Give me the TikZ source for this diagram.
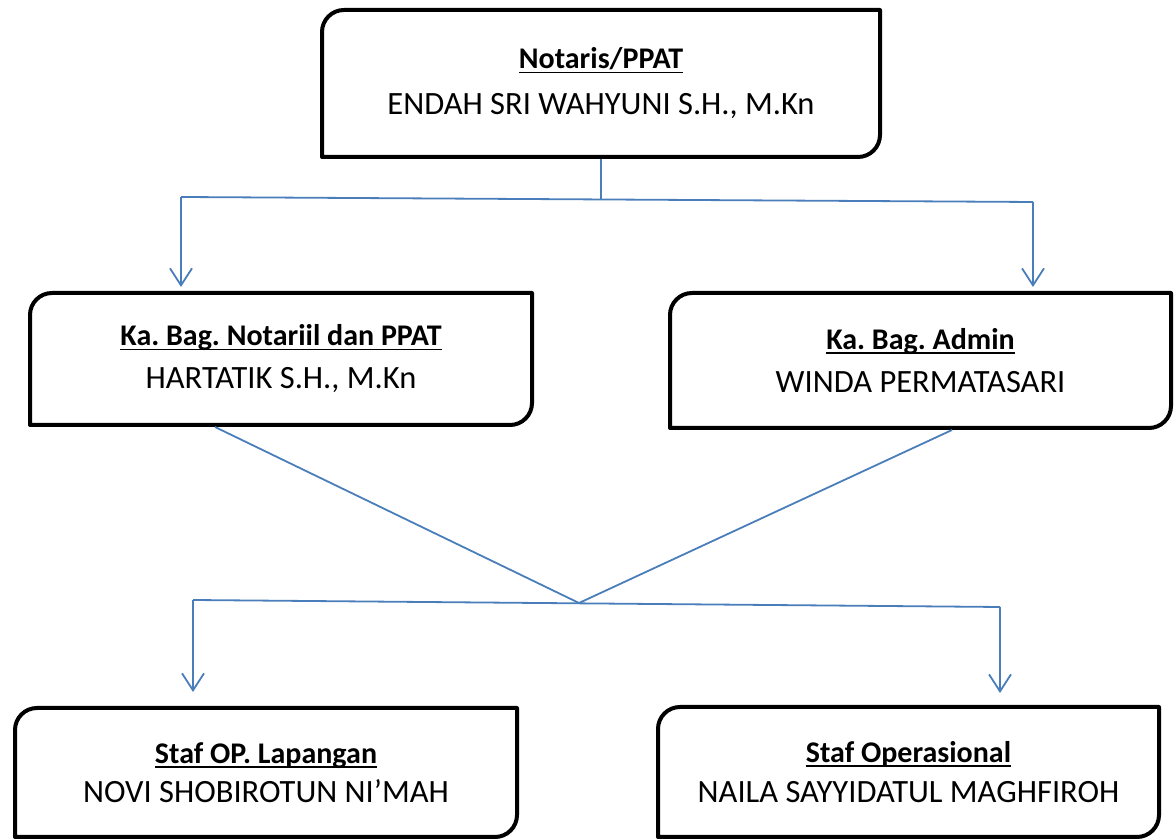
\documentclass[tikz,border=0pt]{standalone}
\usepackage{fontspec}
\setmainfont{Carlito}
\usetikzlibrary{arrows.meta,calc}
\definecolor{conblue}{HTML}{4A7EBB}
\frenchspacing
\newsavebox{\hdrbox}
\newcommand{\hdr}[1]{\leavevmode\sbox{\hdrbox}{\fontsize{30}{32}\selectfont\bfseries #1}%
  \rlap{\rule[-4.5pt]{\wd\hdrbox}{1.8pt}}\usebox{\hdrbox}}
\tikzset{
  orgbox/.style={rectangle, inner sep=0pt, outer sep=0pt, align=center,
    font=\fontsize{32.5}{45}\selectfont},
  outline/.style={line width=4pt, black, line join=round},
  conn/.style={conblue, line width=1.8pt},
  downarrow/.style={conn, -{Straight Barb[length=17pt,width=22pt]}},
}
\newcommand{\boxoutline}[1]{%
  \draw[outline] (#1.south west) -- ([yshift=-22pt]#1.north west)
    arc[start angle=180,end angle=90,radius=22pt]
    -- (#1.north east) -- ([yshift=22pt]#1.south east)
    arc[start angle=0,end angle=-90,radius=22pt] -- cycle;}
\begin{document}
\begin{tikzpicture}[x=1pt,y=1pt]
\useasboundingbox (0,0) rectangle (1176,840);
\node[orgbox, minimum width=558pt, minimum height=147pt] (top) at (601,756.5)
  {\hdr{Notaris/PPAT}\\[1pt] ENDAH SRI WAHYUNI S.H., M.Kn};
\node[orgbox, minimum width=502pt, minimum height=132pt] (b2) at (281,481)
  {\hdr{Ka. Bag. Notariil dan PPAT}\\[-2pt] HARTATIK S.H., M.Kn};
\node[orgbox, minimum width=501pt, minimum height=135pt] (b3) at (920.5,479.5)
  {\hdr{Ka. Bag. Admin}\\[-2pt] WINDA PERMATASARI};
\node[orgbox, minimum width=502pt, minimum height=129pt] (b4) at (266,67.5)
  {\hdr{Staf OP. Lapangan}\\[-6pt] NOVI SHOBIROTUN NI’MAH};
\node[orgbox, minimum width=501pt, minimum height=130pt] (b5) at (908.5,68)
  {\hdr{Staf Operasional}\\[-5pt] NAILA SAYYIDATUL MAGHFIROH};
\boxoutline{top}
\boxoutline{b2}
\boxoutline{b3}
\boxoutline{b4}
\boxoutline{b5}
% first level connectors
\coordinate (h1l) at (181,643);
\coordinate (h1r) at (1033,638);
\coordinate (h1m) at (601,640);
\draw[conn] ([yshift=-2pt]top.south) -- (h1m);
\draw[conn] (h1l) -- (h1r);
\draw[downarrow] (h1l) -- ([yshift=6pt]h1l |- b2.north);
\draw[downarrow] (h1r) -- ([yshift=6pt]h1r |- b3.north);
% second level connectors
\coordinate (mid) at (579,237);
\draw[conn] ([xshift=-66pt,yshift=-2pt]b2.south) -- (mid);
\draw[conn] ([xshift=31.5pt,yshift=-2pt]b3.south) -- (mid);
\coordinate (h2l) at (193,240);
\coordinate (h2r) at (1000,233);
\draw[conn] (h2l) -- (h2r);
\draw[downarrow] (h2l) -- ([yshift=16pt]h2l |- b4.north);
\draw[downarrow] (h2r) -- ([yshift=14pt]h2r |- b5.north);
\end{tikzpicture}
\end{document}
